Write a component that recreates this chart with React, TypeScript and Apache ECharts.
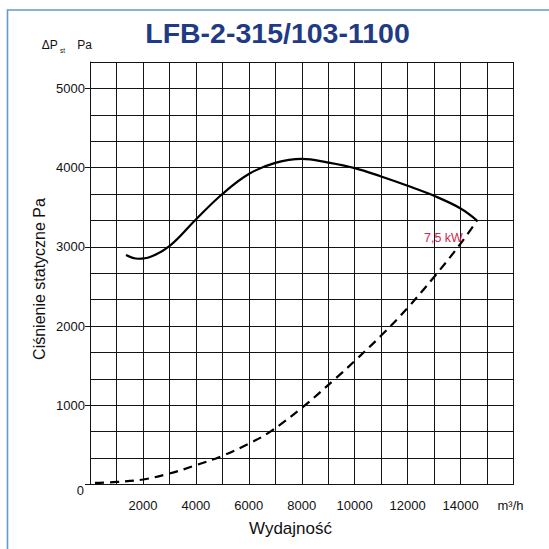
import React, { useEffect, useRef } from "react";
import * as echarts from "echarts";

const FONT = "'Liberation Sans', Arial, Helvetica, sans-serif";

const title = "LFB-2-315/103-1100";
const xTickLabels = [2000, 4000, 6000, 8000, 10000, 12000, 14000];
const yTickLabels = [1000, 2000, 3000, 4000, 5000];
const yTicks = [0, 1000, 2000, 3000, 4000, 5000];

// Fan curve (airflow m3/h, static pressure Pa)
const fanFlow = [1360, 1825, 2266, 3000, 4000, 5000, 6000, 7000, 8000, 9000, 10000, 11000, 12000, 13000, 14000, 14620];
const fanPressure = [2897, 2850, 2871, 3008, 3345, 3667, 3920, 4060, 4111, 4064, 3994, 3888, 3771, 3644, 3485, 3333];

// System curve (dashed)
const sysFlow = [190, 1000, 2000, 3000, 4000, 5000, 6000, 6800, 8000, 9300, 10000, 11000, 12000, 13000, 14000, 14620];
const sysPressure = [20, 32, 63, 139, 243, 362, 515, 665, 967, 1345, 1560, 1880, 2230, 2620, 3040, 3333];

const powerLabel = "7,5 kW";

export default function App() {
  const ref = useRef<HTMLDivElement>(null);
  useEffect(() => {
    if (!ref.current) return;
    const chart = echarts.init(ref.current, null, { renderer: "svg" });
    const lineCol = "#141414";
    const txt = (x: number, y: number, text: string, size: number, align: string, extra: any = {}) => ({
      type: "text",
      x,
      y,
      ...extra,
      style: {
        text,
        fill: extra.fill || "#111",
        font: `${extra.weight || "normal"} ${size}px ${FONT}`,
        align,
        verticalAlign: "middle",
        textAlign: align,
        textVerticalAlign: "middle",
      },
    });
    chart.setOption({
      animation: false,
      backgroundColor: "#ffffff",
      grid: { left: 90, right: 35.5, top: 62, bottom: 64.5, show: false },
      xAxis: {
        type: "value",
        min: 0,
        max: 16000,
        interval: 1000,
        axisLine: { show: true, lineStyle: { color: lineCol, width: 1 } },
        axisTick: { show: false },
        axisLabel: {
          customValues: xTickLabels,
          fontSize: 13,
          color: "#111",
          fontFamily: FONT,
          margin: 14,
          formatter: (v: number) => String(Math.round(v)),
        },
        splitLine: { show: true, lineStyle: { color: lineCol, width: 1 } },
      },
      yAxis: [
        {
          type: "value",
          position: "left",
          min: 0,
          max: 16000 / 3,
          interval: 1000 / 3,
          axisLine: { show: true, lineStyle: { color: lineCol, width: 1 } },
          axisTick: { show: false },
          axisLabel: { show: false },
          splitLine: { show: true, lineStyle: { color: lineCol, width: 1 } },
        },
        {
          type: "value",
          position: "left",
          offset: 0,
          min: 0,
          max: 16000 / 3,
          interval: 1000,
          axisLine: { show: false },
          axisTick: { show: true, customValues: yTicks, length: 5, lineStyle: { color: lineCol, width: 1 } },
          axisLabel: {
            customValues: yTickLabels,
            fontSize: 13,
            color: "#111",
            fontFamily: FONT,
            margin: 5,
            formatter: (v: number) => String(Math.round(v)),
          },
          splitLine: { show: false },
        },
      ],
      series: [
        {
          type: "line",
          yAxisIndex: 0,
          data: fanFlow.map((x, i) => [x, fanPressure[i]]),
          smooth: 0.4,
          showSymbol: false,
          lineStyle: { color: "#000", width: 2.2 },
          z: 5,
        },
        {
          type: "line",
          yAxisIndex: 0,
          data: sysFlow.map((x, i) => [x, sysPressure[i]]),
          smooth: 0.4,
          showSymbol: false,
          lineStyle: { color: "#000", width: 2.2, type: [9, 6] },
          z: 4,
        },
      ],
      graphic: [
        {
          type: "rect",
          shape: { x: 7.5, y: 10, width: 700, height: 700 },
          style: { fill: "none", stroke: "#5f9bd0", lineWidth: 1.6 },
          z: 100,
        },
        txt(277.5, 33, title, 28.5, "center", { fill: "#1f3b85", weight: "bold" }),
        txt(41.7, 45, "ΔP", 12, "left"),
        txt(60, 50.3, "st", 6.5, "left"),
        txt(77.3, 45, "Pa", 12, "left"),
        txt(84, 490, "0", 13, "right"),
        txt(497.5, 505, "m³/h", 13, "left"),
        txt(290.5, 528.5, "Wydajność", 17, "center"),
        txt(39.4, 279, "Ciśnienie statyczne Pa", 16, "center", { rotation: Math.PI / 2 }),
        txt(424, 237.7, powerLabel, 12.5, "left", { fill: "#d41f4a", z: 10 }),
      ],
    });
    return () => chart.dispose();
  }, []);
  return (
    <div
      ref={ref}
      style={{ position: "fixed", left: 0, top: 0, width: 549, height: 549, background: "#fff" }}
    />
  );
}
